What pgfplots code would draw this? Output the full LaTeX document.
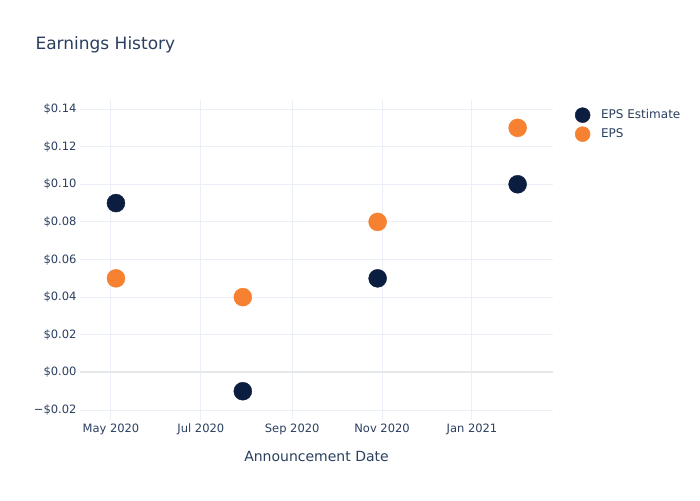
\documentclass[border=0pt]{standalone}
\usepackage{pgfplots}
\pgfplotsset{compat=1.18}
\usepackage{fontspec}
\setmainfont{DejaVu Sans}
\definecolor{txt}{HTML}{2A3F5F}
\definecolor{gridc}{HTML}{EBF0F8}
\definecolor{navy}{HTML}{0C1E40}
\definecolor{orng}{HTML}{F58131}
\begin{document}
\begin{tikzpicture}[x=1pt,y=1pt]
\begin{axis}[
  scale only axis, width=473pt, height=320pt,
  xmin=-21, xmax=300, ymin=-0.0253, ymax=0.1448,
  axis line style={draw=none},
  major tick length=0pt,
  xtick={0,61,123,184,245},
  xticklabels={May 2020,Jul 2020,Sep 2020,Nov 2020,Jan 2021},
  ytick={-0.02,0,0.02,0.04,0.06,0.08,0.10,0.12,0.14},
  yticklabels={−\$0.02,\$0.00,\$0.02,\$0.04,\$0.06,\$0.08,\$0.10,\$0.12,\$0.14},
  ticklabel style={text=txt, font=\fontsize{11.5}{13}\selectfont},
  grid=major, grid style={gridc, line width=1pt},
  extra y ticks={0}, extra y tick labels={},
  extra y tick style={grid style={gridc!80!gray!60, line width=2pt}},
  xlabel={Announcement Date},
  xlabel style={at={(axis description cs:0.5,-0.1125)}, anchor=center, text=txt, font=\fontsize{14}{16}\selectfont},
  legend style={at={(axis description cs:1.04,0.983)}, anchor=north west, draw=none, fill=none,
    font=\fontsize{12}{14}\selectfont, text=txt, row sep=4pt},
  legend cell align=left,
]
\coordinate (O) at (rel axis cs:0,0);
\addplot[only marks, mark=*, mark size=9pt, mark options={draw=navy, fill=navy},
  legend image post style={mark size=7.5pt}] coordinates {
(3.4,0.09) (89.5,-0.01) (181,0.05) (276,0.10)};
\addlegendentry{\hspace{9pt}EPS Estimate}
\addplot[only marks, mark=*, mark size=9pt, mark options={draw=orng, fill=orng},
  legend image post style={mark size=7.5pt}] coordinates {
(3.4,0.05) (89.5,0.04) (181,0.08) (276,0.13)};
\addlegendentry{\hspace{9pt}EPS}
\end{axis}
\node[anchor=base west, text=txt, font=\fontsize{17}{20}\selectfont] at ([shift={(-48,370)}]O) {Earnings History};
\pgfresetboundingbox
\useasboundingbox ([shift={(-80,-80)}]O) rectangle +(700,500);
\end{tikzpicture}
\end{document}
